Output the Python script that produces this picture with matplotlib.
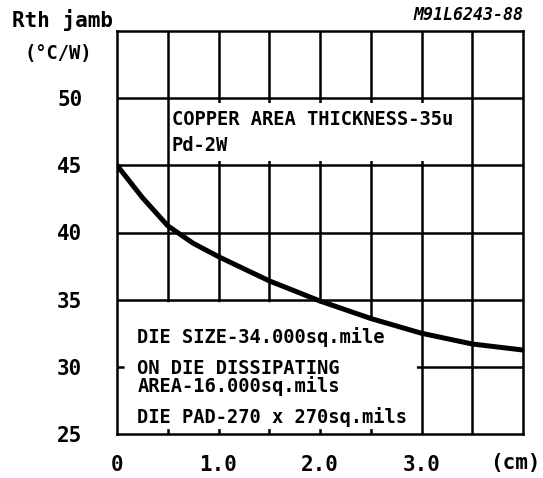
import numpy as np
import matplotlib.pyplot as plt

# curve
dist_cm = [0, 0.25, 0.5, 0.75, 1.0, 1.5, 2.0, 2.5, 3.0, 3.5, 4.0]
rth = [45.0, 42.6, 40.5, 39.2, 38.2, 36.4, 34.9, 33.6, 32.5, 31.7, 31.25]

y_ticks = [25, 30, 35, 40, 45, 50]
x_ticks = [0, 1, 2, 3]
x_labels = ["0", "1.0", "2.0", "3.0"]

mono = "DejaVu Sans Mono"


def main():
    fig = plt.figure(figsize=(5.43, 4.78), dpi=100)
    ax = fig.add_axes([117 / 543, 1 - 434 / 478, 406 / 543, 403 / 478])
    ax.set_xlim(0, 4)
    ax.set_ylim(25, 55)

    # grid drawn by hand so the white boxes can blank parts of it
    ax.vlines(np.arange(0.5, 4, 0.5), 25, 55, color="black", lw=1.8, zorder=1)
    ax.hlines(np.arange(30, 55, 5), 0, 4, color="black", lw=1.8, zorder=1)

    # upper note box (leaves small stubs of the grid)
    ax.fill_between([0.54, 3.46], 45.35, 49.65, color="white", lw=0, zorder=2)

    # lower note box, bounded on top by the curve
    x = np.array(dist_cm)
    y = np.array(rth)
    sel = x <= 3.0
    top = np.minimum(y[sel], 35) - 0.15
    xb = x[sel].copy()
    xb[0] = 0.07
    xb[-1] = 2.95
    ax.fill_between(xb, 25.4, top, color="white", lw=0, zorder=2)

    ax.plot(dist_cm, rth, color="black", lw=3.6, zorder=3)

    for s in ax.spines.values():
        s.set_linewidth(1.8)
        s.set_zorder(4)

    ax.set_yticks(y_ticks)
    ax.set_yticklabels([str(v) for v in y_ticks], family=mono, weight="bold", fontsize=15)
    ax.set_xticks(x_ticks)
    ax.set_xticklabels(x_labels, family=mono, weight="bold", fontsize=15)
    ax.tick_params(axis="y", length=0, pad=25)
    ax.tick_params(axis="x", length=0, pad=15)

    tk = dict(family=mono, weight="bold", fontsize=13.5, va="center", ha="left", zorder=5)
    ax.text(0.54, 48.4, "COPPER AREA THICKNESS-35u", **tk)
    ax.text(0.54, 46.5, "Pd-2W", **tk)
    ax.text(0.2, 32.2, "DIE SIZE-34.000sq.mile", **tk)
    ax.text(0.2, 29.2, "ON DIE DISSIPATING\nAREA-16.000sq.mils", linespacing=0.85, **tk)
    ax.text(0.2, 26.3, "DIE PAD-270 x 270sq.mils", **tk)

    fig.text(12 / 543, 1 - 20 / 478, "Rth jamb", family=mono, weight="bold",
             fontsize=15, va="center", ha="left")
    fig.text(25 / 543, 1 - 53 / 478, "(°C/W)", family=mono, weight="bold",
             fontsize=13.5, va="center", ha="left")
    fig.text(515 / 543, 1 - 463 / 478, "(cm)", family=mono, weight="bold",
             fontsize=15, va="center", ha="center")
    fig.text(523 / 543, 1 - 15 / 478, "M91L6243-88", family=mono, weight="bold",
             style="italic", fontsize=12, va="center", ha="right")

    fig.savefig("out.png", dpi=100)


if __name__ == "__main__":
    main()
